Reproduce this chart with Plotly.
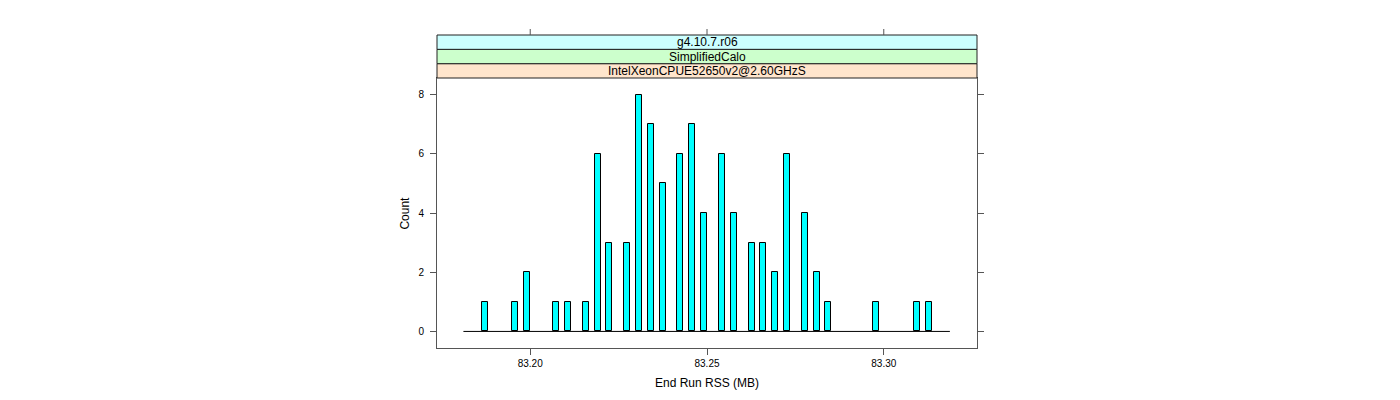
import plotly.graph_objects as go

# ---- data ----
bin_centers = [83.1872, 83.1956, 83.1990, 83.2074, 83.2106, 83.2157, 83.2191,
               83.2224, 83.2273, 83.2307, 83.2341, 83.2375, 83.2425, 83.2458,
               83.2492, 83.2542, 83.2575, 83.2626, 83.2659, 83.2692, 83.2726,
               83.2776, 83.2810, 83.2843, 83.2977, 83.3094, 83.3128]
counts = [1, 1, 2, 1, 1, 1, 6, 3, 3, 8, 7, 5, 6, 7, 4, 6, 4, 3, 3, 2, 6, 4, 2, 1, 1, 1, 1]
hist_range = [83.1811, 83.3187]
bar_width = 0.0017

x_tickvals = [83.20, 83.25, 83.30]
x_ticktext = ["83.20", "83.25", "83.30"]
y_tickvals = [0, 2, 4, 6, 8]

strip_labels = ["IntelXeonCPUE52650v2@2.60GHzS", "SimplifiedCalo", "g4.10.7.r06"]
strip_colors = ["#FFE5CC", "#CCFFCC", "#CCFFFF"]

x_title = "End Run RSS (MB)"
y_title = "Count"

# ---- figure ----
FONT = "Liberation Sans, Arial, sans-serif"
BORDER = "#555555"
panel_top = 0.8626
strip_h = (1 - panel_top) / 3

fig = go.Figure()
fig.add_trace(go.Scatter(x=hist_range, y=[0, 0], mode="lines",
                         line=dict(color="black", width=1),
                         hoverinfo="skip", showlegend=False))
fig.add_trace(go.Bar(x=bin_centers, y=counts, width=bar_width,
                     marker=dict(color="#00FFFF", line=dict(color="black", width=1)),
                     showlegend=False))

shapes = []
annotations = []
for i, (lab, col) in enumerate(zip(strip_labels, strip_colors)):
    y0 = panel_top + i * strip_h
    y1 = y0 + strip_h
    shapes.append(dict(type="rect", xref="paper", yref="paper",
                       x0=0, x1=1, y0=y0, y1=y1, fillcolor=col,
                       line=dict(color="#222222", width=1), layer="above"))
    annotations.append(dict(text=lab, xref="paper", yref="paper",
                            x=0.5, y=(y0 + y1) / 2, showarrow=False,
                            font=dict(family=FONT, size=12, color="black"),
                            xanchor="center", yanchor="middle"))

# top ticks above the strips
for tv in x_tickvals:
    shapes.append(dict(type="line", xref="x", yref="paper", x0=tv, x1=tv,
                       y0=1, y1=1 + 6 / 313, line=dict(color=BORDER, width=1)))

annotations.append(dict(text=x_title, xref="paper", yref="paper", x=0.5, y=-0.112,
                        showarrow=False, xanchor="center", yanchor="middle",
                        font=dict(family=FONT, size=12, color="black")))
annotations.append(dict(text=y_title, xref="paper", yref="paper", x=-0.060,
                        y=panel_top / 2, showarrow=False, textangle=-90,
                        xanchor="center", yanchor="middle",
                        font=dict(family=FONT, size=12, color="black")))

fig.update_layout(
    width=1400, height=400,
    margin=dict(l=429, r=431, t=27, b=60),
    paper_bgcolor="white", plot_bgcolor="white",
    bargap=0,
    showlegend=False,
    font=dict(family=FONT, size=10, color="black"),
    xaxis=dict(range=[83.17363, 83.32637], tickvals=x_tickvals, ticktext=x_ticktext,
               ticks="outside", ticklen=6, tickcolor=BORDER, tickwidth=1,
               showline=True, linecolor=BORDER, linewidth=1, mirror=True,
               showgrid=False, zeroline=False,
               tickfont=dict(family=FONT, size=10, color="black")),
    yaxis=dict(range=[-0.56, 8.56], domain=[0, panel_top], tickvals=y_tickvals,
               ticks="outside", ticklen=6, tickcolor=BORDER, tickwidth=1,
               showline=True, linecolor=BORDER, linewidth=1, mirror="ticks",
               showgrid=False, zeroline=False, ticklabelstandoff=4,
               tickfont=dict(family=FONT, size=10, color="black")),
    shapes=shapes,
    annotations=annotations,
)

fig.write_html("out.html")
